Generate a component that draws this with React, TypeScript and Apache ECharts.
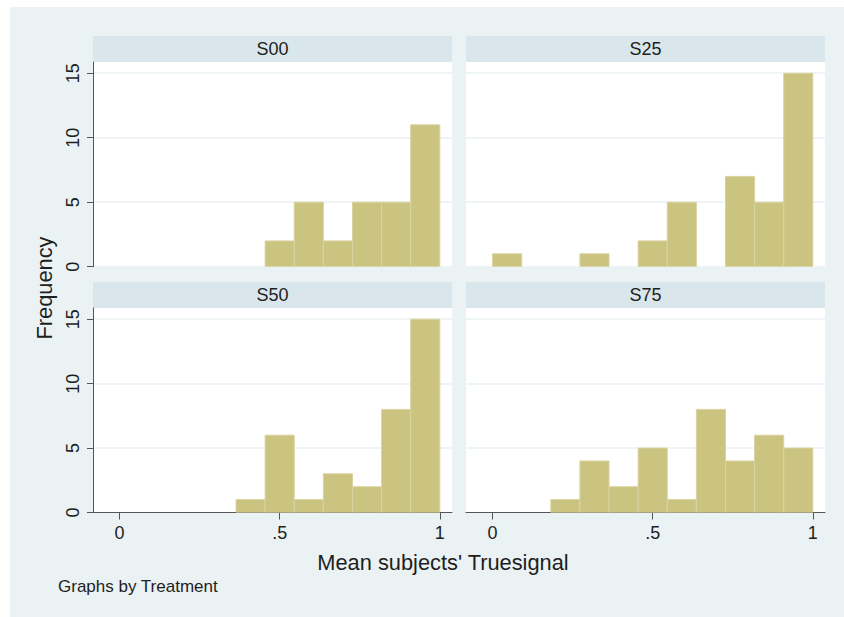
import React, { useEffect, useRef } from "react";
import * as echarts from "echarts";

// ---- data ----
const panelNames = ["S00", "S25", "S50", "S75"];
const binCount = 11; // bins of width 1/11 starting at 0
const countsS00 = [0, 0, 0, 0, 0, 2, 5, 2, 5, 5, 11];
const countsS25 = [1, 0, 0, 1, 0, 2, 5, 0, 7, 5, 15];
const countsS50 = [0, 0, 0, 0, 1, 6, 1, 3, 2, 8, 15];
const countsS75 = [0, 0, 1, 4, 2, 5, 1, 8, 4, 6, 5];
const panelCounts = [countsS00, countsS25, countsS50, countsS75];
const yTicks = [0, 5, 10, 15];
const xTicks = [0, 0.5, 1];
const xTickLabels = ["0", ".5", "1"];
const yTitle = "Frequency";
const xTitle = "Mean subjects' Truesignal";
const note = "Graphs by Treatment";

const FONT = "Liberation Sans, Arial, sans-serif";
const BAR_FILL = "#cbc380";
const BAR_EDGE = "#dad3a0";
const AXIS = "#555555";
const TEXT = "#1e1e1e";
const GRIDLINE = "#eaf2f3";
const HEADER = "#d9e6eb";

const gridRects = [
  { left: 93, top: 62, width: 359, height: 204.7 },
  { left: 466, top: 62, width: 359, height: 204.7 },
  { left: 93, top: 308, width: 359, height: 204.5 },
  { left: 466, top: 308, width: 359, height: 204.5 },
];

export default function App() {
  const ref = useRef<HTMLDivElement>(null);
  useEffect(() => {
    document.body.style.margin = "0";
    if (!ref.current) return;
    const chart = echarts.init(ref.current, null, { renderer: "svg" });

    const grid = gridRects.map((g) => ({
      ...g,
      show: true,
      backgroundColor: "#ffffff",
      borderWidth: 0,
      containLabel: false,
    }));

    const xAxis = gridRects.map((_, i) => {
      const isBottom = i >= 2;
      return {
        gridIndex: i,
        type: "value",
        min: -0.083,
        max: 1.038,
        show: true,
        axisLine: { show: isBottom, onZero: false, lineStyle: { color: AXIS, width: 1 } },
        axisTick: {
          show: isBottom,
          inside: false,
          length: 7,
          customValues: xTicks,
          lineStyle: { color: AXIS, width: 1 },
        },
        axisLabel: {
          show: isBottom,
          customValues: xTicks,
          margin: 11,
          fontSize: 18,
          color: TEXT,
          fontFamily: FONT,
          formatter: (v: number) => {
            const k = xTicks.findIndex((t) => Math.abs(t - v) < 1e-9);
            return k >= 0 ? xTickLabels[k] : "";
          },
        },
        splitLine: { show: false },
      };
    });

    const yAxis = gridRects.map((_, i) => {
      const isLeft = i % 2 === 0;
      return {
        gridIndex: i,
        type: "value",
        min: 0,
        max: 15.87,
        interval: 5,
        show: true,
        axisLine: { show: isLeft, onZero: false, lineStyle: { color: AXIS, width: 1 } },
        axisTick: {
          show: isLeft,
          inside: false,
          length: 6,
          customValues: yTicks,
          lineStyle: { color: AXIS, width: 1 },
        },
        axisLabel: {
          show: isLeft,
          customValues: yTicks,
          rotate: 90,
          margin: 11,
          fontSize: 18,
          color: TEXT,
          fontFamily: FONT,
        },
        splitLine: { show: true, lineStyle: { color: GRIDLINE, width: 1.5 } },
      };
    });

    const series = panelCounts.map((counts, i) => ({
      type: "custom",
      xAxisIndex: i,
      yAxisIndex: i,
      clip: true,
      encode: { x: [0, 1], y: 2 },
      data: counts
        .map((c, k) => [k / binCount, (k + 1) / binCount, c])
        .filter((d) => d[2] > 0),
      renderItem: (params: any, api: any) => {
        const p0 = api.coord([api.value(0), api.value(2)]);
        const p1 = api.coord([api.value(1), 0]);
        return {
          type: "rect",
          shape: { x: p0[0], y: p0[1], width: p1[0] - p0[0], height: p1[1] - p0[1] },
          style: { fill: BAR_FILL, stroke: BAR_EDGE, lineWidth: 1 },
        };
      },
    }));

    const graphic: any[] = [];
    gridRects.forEach((g, i) => {
      graphic.push({
        type: "rect",
        shape: { x: g.left, y: g.top - 26, width: g.width, height: 26 },
        style: { fill: HEADER },
        silent: true,
      });
      graphic.push({
        type: "text",
        x: g.left + g.width / 2,
        y: g.top - 13,
        style: {
          text: panelNames[i],
          fontSize: 18,
          fontFamily: FONT,
          fill: TEXT,
          align: "center",
          verticalAlign: "middle",
        },
        silent: true,
      });
    });
    graphic.push({
      type: "text",
      x: 44,
      y: 288,
      rotation: Math.PI / 2,
      style: {
        text: yTitle,
        fontSize: 21.8,
        fontFamily: FONT,
        fill: TEXT,
        align: "center",
        verticalAlign: "middle",
      },
    });
    graphic.push({
      type: "text",
      x: 443,
      y: 562,
      style: {
        text: xTitle,
        fontSize: 21.8,
        fontFamily: FONT,
        fill: TEXT,
        align: "center",
        verticalAlign: "middle",
      },
    });
    graphic.push({
      type: "text",
      x: 58,
      y: 586,
      style: {
        text: note,
        fontSize: 17,
        fontFamily: FONT,
        fill: TEXT,
        align: "left",
        verticalAlign: "middle",
      },
    });

    chart.setOption({
      animation: false,
      backgroundColor: "transparent",
      grid,
      xAxis,
      yAxis,
      series,
      graphic,
    });
    return () => chart.dispose();
  }, []);

  return (
    <div style={{ position: "relative", width: 844, height: 617, background: "#ffffff" }}>
      <div
        style={{
          position: "absolute",
          left: 10,
          top: 7,
          width: 834,
          height: 610,
          background: "#eaf2f3",
        }}
      />
      <div ref={ref} style={{ position: "absolute", left: 0, top: 0, width: 844, height: 617 }} />
    </div>
  );
}
